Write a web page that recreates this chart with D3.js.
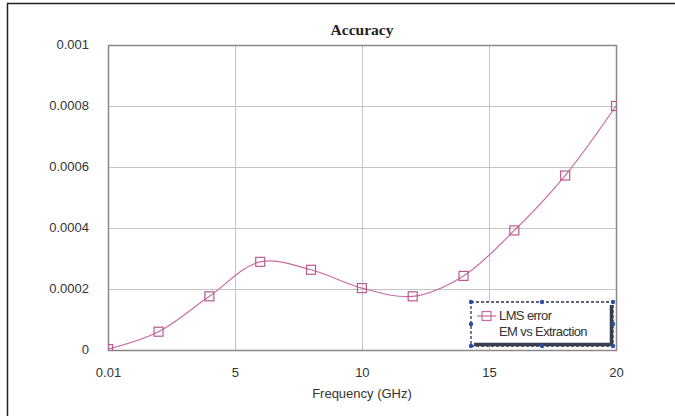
<!DOCTYPE html>
<html lang="en">
<head>
<meta charset="utf-8">
<title>Accuracy</title>
<script src="https://cdn.jsdelivr.net/npm/d3@7"></script>
<style>
    html, body { margin: 0; padding: 0; background: #fff; }
    svg { display: block; }
    .tick text { font-family: Arial, "Liberation Sans", sans-serif; font-size: 13px; fill: #333; }
</style>
</head>
<body>
<div id="chart"></div>
<script>
    // data
    var freqs = [0.01, 2, 4, 6, 8, 10, 12, 14, 16, 18, 20];
    var lmsError = [0.000003, 0.00006, 0.000176, 0.000289, 0.000263, 0.000203, 0.000176, 0.000243, 0.000392, 0.000572, 0.0008];
    var xTicks = [0.01, 5, 10, 15, 20];
    var yTicks = [0, 0.0002, 0.0004, 0.0006, 0.0008, 0.001];
    var legendLines = ["LMS error", "EM vs Extraction"];

    var width = 675, height = 416;
    var margin = {left: 108, right: 59, top: 45, bottom: 66};
    var lineColor = "#cc6aa0";

    var svg = d3.select("#chart").append("svg")
        .attr("width", width)
        .attr("height", height);

    // outer frame (only left and top edges show in the picture)
    svg.append("path")
        .attr("d", "M7.5," + height + "V3.5H" + width)
        .attr("fill", "none")
        .attr("stroke", "#222")
        .attr("stroke-width", 1.5);

    var x = d3.scaleLinear().domain([0.01, 20]).range([margin.left, width - margin.right]);
    var y = d3.scaleLinear().domain([0, 0.001]).range([height - margin.bottom, margin.top]);

    // gridlines
    svg.append("g")
        .selectAll("line.h")
        .data(yTicks)
        .enter().append("line")
        .attr("x1", x.range()[0]).attr("x2", x.range()[1])
        .attr("y1", function(d) { return Math.round(y(d)) + 0.5; })
        .attr("y2", function(d) { return Math.round(y(d)) + 0.5; })
        .attr("stroke", "#c4c4c4");

    svg.append("g")
        .selectAll("line.v")
        .data(xTicks)
        .enter().append("line")
        .attr("y1", y.range()[0]).attr("y2", y.range()[1])
        .attr("x1", function(d) { return Math.round(x(d)) + 0.5; })
        .attr("x2", function(d) { return Math.round(x(d)) + 0.5; })
        .attr("stroke", "#c4c4c4");

    // plot border
    svg.append("rect")
        .attr("x", x.range()[0] + 0.5)
        .attr("y", y.range()[1] + 0.5)
        .attr("width", x.range()[1] - x.range()[0])
        .attr("height", y.range()[0] - y.range()[1])
        .attr("fill", "none")
        .attr("stroke", "#888")
        .attr("stroke-width", 1.5);

    // axes, only used for the labels
    var xAxis = svg.append("g")
        .attr("transform", "translate(0," + (y.range()[0] + 15) + ")")
        .call(d3.axisBottom(x).tickValues(xTicks).tickSize(0).tickFormat(function(d) { return d; }));
    xAxis.select(".domain").remove();

    var yAxis = svg.append("g")
        .attr("transform", "translate(" + (x.range()[0] - 16) + ",-1)")
        .call(d3.axisLeft(y).tickValues(yTicks).tickSize(0).tickFormat(function(d) { return d === 0 ? "0" : String(+d.toFixed(4)); }));
    yAxis.select(".domain").remove();

    // title and axis title
    svg.append("text")
        .attr("x", 362).attr("y", 35)
        .attr("text-anchor", "middle")
        .attr("font-family", "'Liberation Serif', 'DejaVu Serif', serif")
        .attr("font-weight", "bold")
        .attr("font-size", 15.5)
        .attr("fill", "#222")
        .text("Accuracy");

    svg.append("text")
        .attr("x", 362).attr("y", 398)
        .attr("text-anchor", "middle")
        .attr("font-family", "Arial, 'Liberation Sans', sans-serif")
        .attr("font-size", 13)
        .attr("fill", "#333")
        .text("Frequency (GHz)");

    // clip the series to the plot area
    svg.append("clipPath").attr("id", "plotclip")
        .append("rect")
        .attr("x", x.range()[0]).attr("y", y.range()[1])
        .attr("width", x.range()[1] - x.range()[0] + 1)
        .attr("height", y.range()[0] - y.range()[1] + 1);

    var pts = freqs.map(function(f, i) { return [f, lmsError[i]]; });

    var series = svg.append("g").attr("clip-path", "url(#plotclip)");

    var line = d3.line()
        .x(function(d) { return x(d[0]); })
        .y(function(d) { return y(d[1]); })
        .curve(d3.curveCatmullRom.alpha(0.5));

    series.append("path")
        .datum(pts)
        .attr("d", line)
        .attr("fill", "none")
        .attr("stroke", lineColor)
        .attr("stroke-width", 1.2);

    var ms = 9;
    series.selectAll("rect.marker")
        .data(pts)
        .enter().append("rect")
        .attr("class", "marker")
        .attr("x", function(d) { return x(d[0]) - ms / 2; })
        .attr("y", function(d) { return y(d[1]) - ms / 2; })
        .attr("width", ms).attr("height", ms)
        .attr("fill", "none")
        .attr("stroke", "#b85a90")
        .attr("stroke-width", 1.2);

    // legend (selected in the original, so dashed with handles)
    var lg = {x: 471, y: 302, w: 142, h: 44};
    var legend = svg.append("g");
    legend.append("rect")
        .attr("x", lg.x).attr("y", lg.y)
        .attr("width", lg.w).attr("height", lg.h)
        .attr("fill", "#fff")
        .attr("stroke", "#2b3350")
        .attr("stroke-width", 1.3)
        .attr("stroke-dasharray", "3,2");
    // the thick shadow on the right and bottom
    legend.append("path")
        .attr("d", "M" + (lg.x + lg.w - 1.5) + "," + (lg.y + 3) + "V" + (lg.y + lg.h - 1.5) + "H" + (lg.x + 3))
        .attr("fill", "none")
        .attr("stroke", "#3a3f4f")
        .attr("stroke-width", 3.5);

    var handles = [[0, 0], [0.5, 0], [1, 0], [0, 0.5], [1, 0.5], [0, 1], [0.5, 1], [1, 1]];
    legend.selectAll("circle")
        .data(handles)
        .enter().append("circle")
        .attr("cx", function(d) { return lg.x + d[0] * lg.w; })
        .attr("cy", function(d) { return lg.y + d[1] * lg.h; })
        .attr("r", 2.2)
        .attr("fill", "#2d4fa0");

    legend.append("line")
        .attr("x1", 477).attr("x2", 496)
        .attr("y1", 316).attr("y2", 316)
        .attr("stroke", lineColor).attr("stroke-width", 1.2);
    legend.append("rect")
        .attr("x", 482).attr("y", 311.5)
        .attr("width", 9).attr("height", 9)
        .attr("fill", "none")
        .attr("stroke", lineColor).attr("stroke-width", 1.2);

    legend.selectAll("text")
        .data(legendLines)
        .enter().append("text")
        .attr("x", 499)
        .attr("y", function(d, i) { return 320 + i * 16; })
        .attr("font-family", "Arial, 'Liberation Sans', sans-serif")
        .attr("font-size", 13)
        .attr("letter-spacing", -0.6)
        .attr("fill", "#333")
        .text(function(d) { return d; });
</script>
</body>
</html>
